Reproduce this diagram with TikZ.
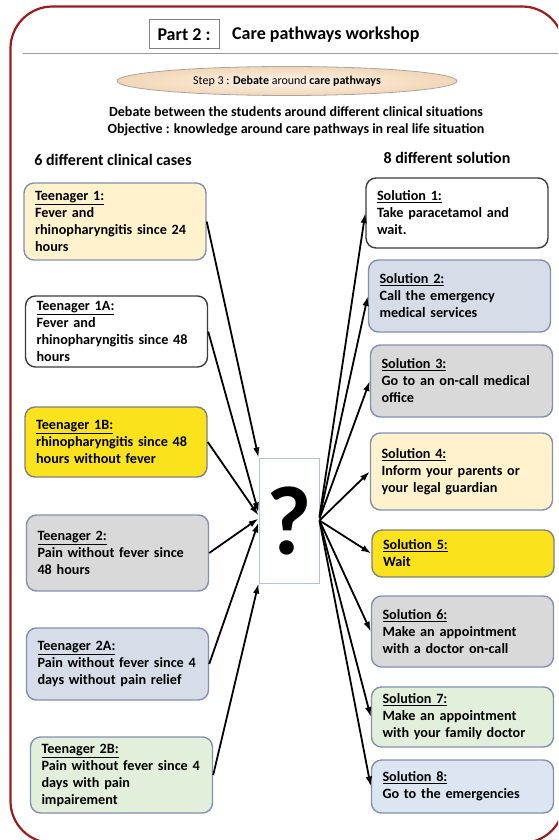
\documentclass[tikz,border=0pt]{standalone}
\usepackage{fontspec}
\setmainfont{Carlito}
\usetikzlibrary{arrows.meta,shapes.geometric}

\definecolor{framered}{HTML}{9B1B1F}
\definecolor{boxedge}{HTML}{8290B0}
\definecolor{darkedge}{HTML}{3C3C3C}
\definecolor{paleyellow}{HTML}{FFF2CC}
\definecolor{brightyellow}{HTML}{FAE31C}
\definecolor{palegray}{HTML}{D9D9D9}
\definecolor{paleblue}{HTML}{D6DCE8}
\definecolor{skyblue}{HTML}{DCE6F3}
\definecolor{palegreen}{HTML}{E2EFDA}
\definecolor{peach}{HTML}{F2D6B6}
\definecolor{peachlight}{HTML}{FDF4EA}
\definecolor{qedge}{HTML}{B4C2D9}

\newcommand{\tightspace}{\spaceskip=0.226em plus 0.05em\relax}

\tikzset{
	casebox/.style={draw=boxedge, line width=1.4pt, rounded corners=10pt, text width=160pt, inner xsep=11pt, inner ysep=4pt, align=left, font=\fontsize{14.2}{17}\selectfont\bfseries\tightspace},
	link/.style={-{Latex[length=10pt,width=6.5pt]}, line width=1.8pt},
	heading/.style={font=\fontsize{16}{19}\selectfont\bfseries\tightspace},
}

\begin{document}
\begin{tikzpicture}[x=1pt,y=-1pt]
		\useasboundingbox (0,0) rectangle (558,840);
		\clip (0,0) rectangle (558,840);
		\draw[framered, line width=2.2pt, rounded corners=42pt] (10.5,6.5) rectangle (564,843);
		
		\node[draw=gray, line width=1pt, fill=white, minimum width=70pt, minimum height=29pt, font=\fontsize{18}{20}\selectfont\bfseries\tightspace] (part) at (184,34.5) {Part 2 :};
		\node[anchor=west, inner xsep=0pt, font=\fontsize{18}{20}\selectfont\bfseries\tightspace] (title) at (232,35) {Care pathways workshop};
		\draw[gray!80, line width=1.2pt] (23,53.5) -- (558,53.5);
		
		\node[ellipse, draw=gray!70, line width=0.8pt, inner color=peachlight, outer color=peach, minimum width=340pt, minimum height=29pt, font=\fontsize{12}{14}\selectfont\tightspace] (step) at (287,81) {Step 3 : \textbf{Debate} around \textbf{care pathways}};
		\node[align=center, font=\fontsize{14}{17}\selectfont\bfseries\tightspace] (aim) at (296,121.5) {Debate between the students around different clinical situations\\Objective : knowledge around care pathways in real life situation};
		
		\node[heading] (cases) at (113,160) {6 different clinical cases};
		\node[heading] (solutions) at (447,158) {8 different solution};
		
		\node[casebox, fill=paleyellow, minimum height=77pt] (teen1) at (115,221.5) {\underline{Teenager 1:}\\Fever and\\rhinopharyngitis since 24\\hours};
		\node[casebox, draw=darkedge, fill=white, minimum height=71pt] (teen1a) at (116.5,331.5) {\underline{Teenager 1A:}\\Fever and\\rhinopharyngitis since 48\\hours};
		\node[casebox, draw=gray, fill=brightyellow, minimum height=70pt] (teen1b) at (116,442) {\underline{Teenager 1B:}\\rhinopharyngitis since 48\\hours without fever};
		\node[casebox, fill=palegray, minimum height=76pt] (teen2) at (117.5,553) {\underline{Teenager 2:}\\Pain without fever since\\48 hours};
		\node[casebox, fill=paleblue, minimum height=72pt] (teen2a) at (117.5,664) {\underline{Teenager 2A:}\\Pain without fever since 4\\days without pain relief};
		\node[casebox, fill=palegreen, minimum height=76pt] (teen2b) at (121.5,775) {\underline{Teenager 2B:}\\Pain without fever since 4\\days with pain\\impairement};
		
		\node[casebox, draw=darkedge, fill=white, minimum height=70pt] (sol1) at (457,213) {\underline{Solution 1:}\\Take paracetamol and\\wait.};
		\node[casebox, fill=paleblue, minimum height=72pt] (sol2) at (459.5,296) {\underline{Solution 2:}\\Call the emergency\\medical services};
		\node[casebox, fill=palegray, minimum height=72pt] (sol3) at (461.5,381) {\underline{Solution 3:}\\Go to an on-call medical\\office};
		\node[casebox, fill=paleyellow, minimum height=77pt] (sol4) at (461.5,471.5) {\underline{Solution 4:}\\Inform your parents or\\your legal guardian};
		\node[casebox, draw=gray, fill=brightyellow, minimum height=47pt] (sol5) at (463,553.5) {\underline{Solution 5:}\\Wait};
		\node[casebox, fill=palegray, minimum height=71pt] (sol6) at (462.5,631.5) {\underline{Solution 6:}\\Make an appointment\\with a doctor on-call};
		\node[casebox, fill=palegreen, minimum height=60pt] (sol7) at (462.5,717) {\underline{Solution 7:}\\Make an appointment\\with your family doctor};
		\node[casebox, fill=skyblue, minimum height=53pt] (sol8) at (462.5,786.5) {\underline{Solution 8:}\\Go to the emergencies};
		
		\node[draw=qedge, line width=1pt, fill=white, minimum width=60pt, minimum height=125pt, inner sep=0pt, font=\fontsize{98}{98}\selectfont\bfseries] (quest) at (289,520.5) {?};
		
		\draw[link] (teen1.east) -- (quest.north west);
		\draw[link] (teen1a.east) -- ([yshift=8pt]quest.west);
		\draw[link] (teen1b.east) -- ([yshift=5pt]quest.west);
		\draw[link] (teen2.east) -- ([yshift=2pt]quest.west);
		\draw[link] (teen2a.east) -- ([yshift=-2pt]quest.west);
		\draw[link] (teen2b.east) -- (quest.south west);
		
		\draw[link] ([yshift=4pt]quest.east) -- (sol1.west);
		\draw[link] ([yshift=3pt]quest.east) -- (sol2.west);
		\draw[link] ([yshift=2pt]quest.east) -- (sol3.west);
		\draw[link] (quest.east) -- (sol4.west);
		\draw[link] (quest.east) -- (sol5.west);
		\draw[link] (quest.east) -- (sol6.west);
		\draw[link] (quest.east) -- (sol7.west);
		\draw[link] (quest.east) -- (sol8.west);
	\end{tikzpicture}
\end{document}
